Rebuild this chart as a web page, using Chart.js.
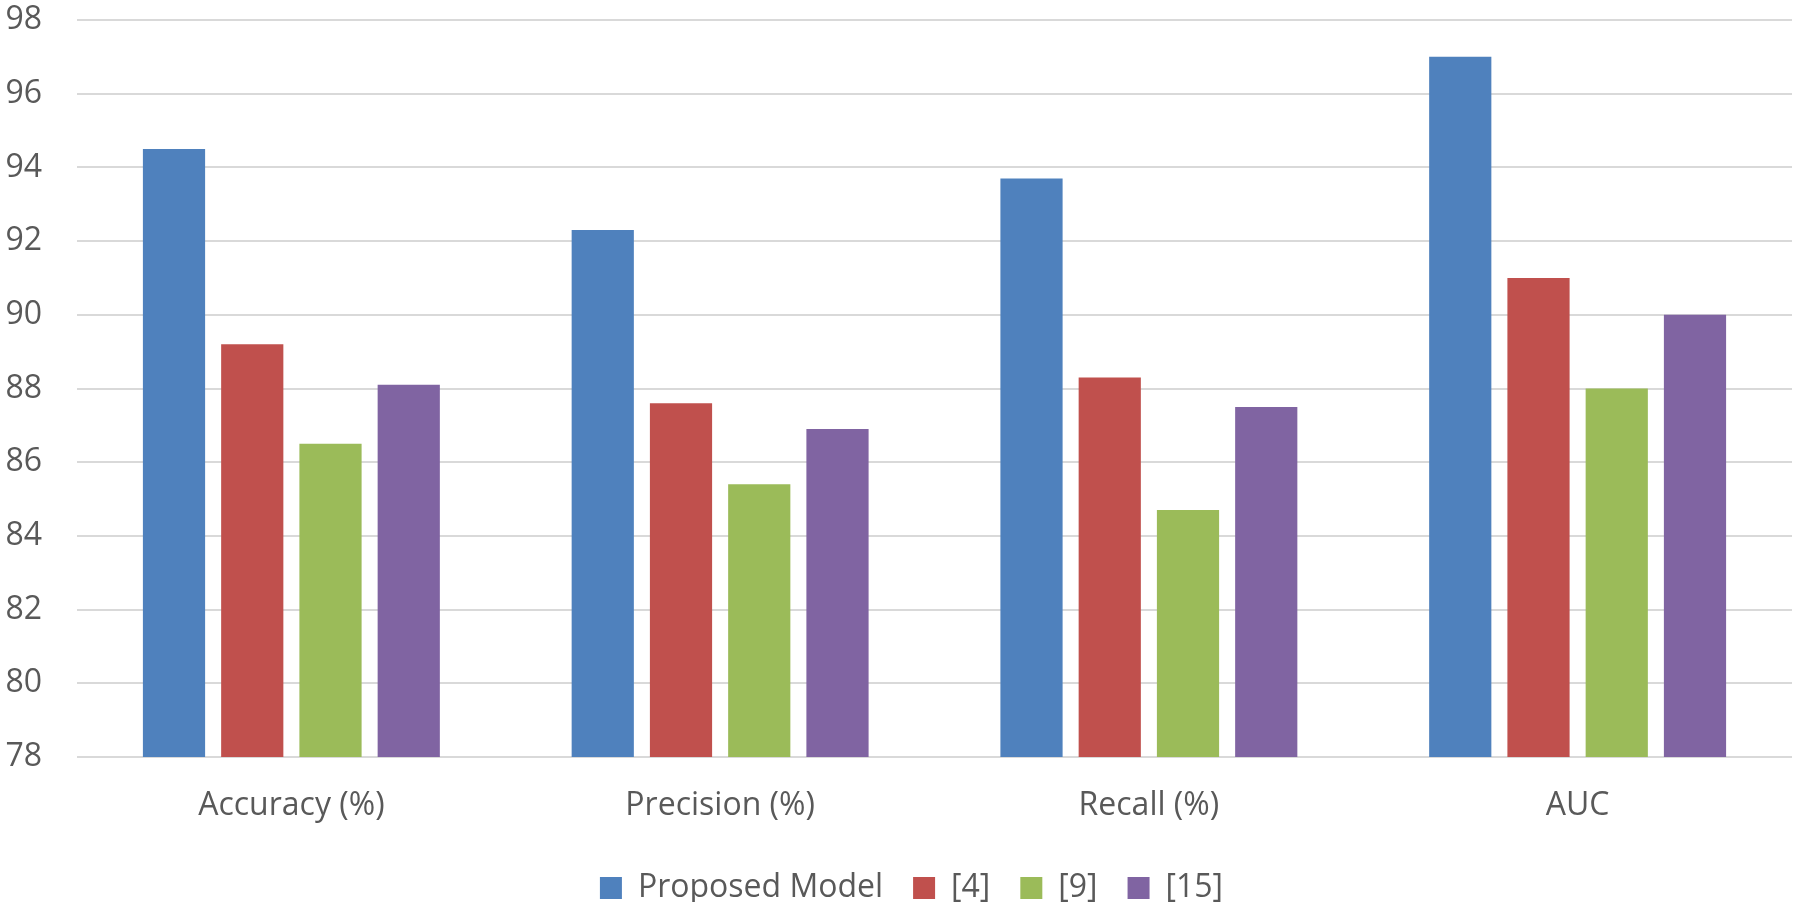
<!DOCTYPE html>
<html lang="en">
<head>
    <meta charset="UTF-8">
    <title>Model comparison</title>
    <script src="https://cdn.jsdelivr.net/npm/chart.js"></script>
    <style>
        html, body { margin: 0; padding: 0; background: #ffffff; }
        #wrap { width: 1798px; height: 913px; }
    </style>
</head>
<body>
    <div id="wrap"><canvas id="mainChart" width="1798" height="913"></canvas></div>

    <script>
        // Data
        const metrics = ['Accuracy (%)', 'Precision (%)', 'Recall (%)', 'AUC'];
        const seriesNames = ['Proposed Model', '[4]', '[9]', '[15]'];
        const proposed = [94.5, 92.3, 93.7, 97.0];
        const ref4 = [89.2, 87.6, 88.3, 91.0];
        const ref9 = [86.5, 85.4, 84.7, 88.0];
        const ref15 = [88.1, 86.9, 87.5, 90.0];
        const colors = ['#4F81BD', '#C0504D', '#9BBB59', '#8064A2'];

        const textColor = '#595959';
        const font = { family: '"Open Sans", sans-serif', size: 32 };

        // the legend in the original sits a little right of the canvas centre
        const legendShift = {
            id: 'legendShift',
            afterLayout(chart) {
                chart.legend.left += 13;
                chart.legend.right += 13;
            }
        };

        const ctx = document.getElementById('mainChart').getContext('2d');
        new Chart(ctx, {
            type: 'bar',
            data: {
                labels: metrics,
                datasets: [proposed, ref4, ref9, ref15].map((vals, i) => ({
                    label: seriesNames[i],
                    data: vals,
                    backgroundColor: colors[i],
                    borderWidth: 0,
                    categoryPercentage: 0.73,
                    barPercentage: 0.795
                }))
            },
            options: {
                responsive: false,
                animation: false,
                layout: { padding: { top: 20, right: 6, left: 5, bottom: 11 } },
                plugins: {
                    tooltip: { enabled: false },
                    legend: {
                        position: 'bottom',
                        maxHeight: 60,
                        labels: {
                            color: textColor,
                            font: font,
                            boxWidth: 22,
                            boxHeight: 22,
                            padding: 30
                        }
                    }
                },
                scales: {
                    x: {
                        grid: { display: false, drawTicks: false },
                        border: { display: false },
                        ticks: { color: textColor, font: font, padding: 30 },
                        afterFit: scale => { scale.height = 85; }
                    },
                    y: {
                        min: 78,
                        max: 98,
                        grid: { color: '#d9d9d9', lineWidth: 2, drawTicks: true, tickLength: 35, tickColor: 'rgba(0,0,0,0)' },
                        border: { display: false },
                        ticks: { stepSize: 2, color: textColor, font: font, padding: 0 },
                        afterFit: scale => { scale.width = 72; }
                    }
                }
            },
            plugins: [legendShift]
        });
    </script>
</body>
</html>
